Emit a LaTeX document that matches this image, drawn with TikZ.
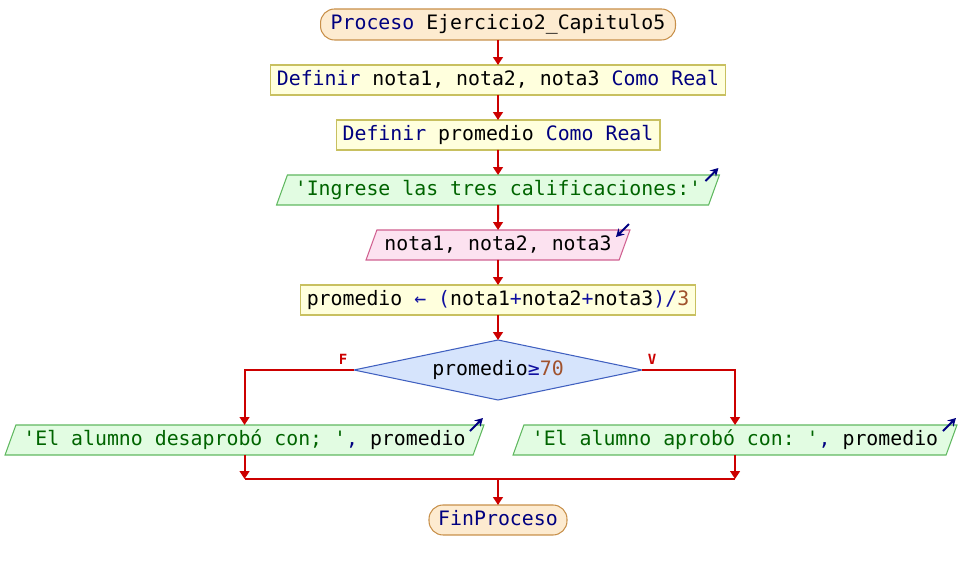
\documentclass[tikz,border=0pt]{standalone}
\usepackage{fontspec}
\setmonofont{DejaVu Sans Mono}
\usetikzlibrary{shapes.geometric,arrows.meta,calc}
\definecolor{kwc}{HTML}{000080}
\definecolor{strc}{HTML}{006400}
\definecolor{numc}{HTML}{A0522D}
\definecolor{opc}{HTML}{1010A0}
\definecolor{flowc}{HTML}{CC0000}
\definecolor{termfill}{HTML}{FDEBD0}
\definecolor{termdraw}{HTML}{C8904A}
\definecolor{boxfill}{HTML}{FFFFDD}
\definecolor{boxdraw}{HTML}{C8C060}
\definecolor{outfill}{HTML}{E2FCE2}
\definecolor{outdraw}{HTML}{60B860}
\definecolor{infill}{HTML}{FCE2F0}
\definecolor{indraw}{HTML}{D06090}
\definecolor{decfill}{HTML}{D6E4FC}
\definecolor{decdraw}{HTML}{4060C0}
\newcommand{\kw}[1]{\textcolor{kwc}{#1}}
\newcommand{\str}[1]{\textcolor{strc}{#1}}
\newcommand{\nm}[1]{\textcolor{numc}{#1}}
\newcommand{\op}[1]{\textcolor{opc}{#1}}
\begin{document}
\begin{tikzpicture}[x=0.02cm,y=-0.02cm,
  every node/.style={font=\ttfamily\fontsize{11.3}{13}\selectfont, text height=8.5pt, text depth=2.5pt, inner xsep=0pt, inner ysep=3pt, outer sep=0pt, line width=0.6pt},
  term/.style={rectangle, rounded corners=0.28cm, draw=termdraw, fill=termfill, minimum height=0.62cm},
  procbox/.style={rectangle, draw=boxdraw, fill=boxfill, minimum height=0.6cm},
  outp/.style={trapezium, trapezium left angle=70, trapezium right angle=110, trapezium stretches body, draw=outdraw, fill=outfill, minimum height=0.6cm},
  inp/.style={outp, draw=indraw, fill=infill},
  dec/.style={diamond, shape aspect=4.8, draw=decdraw, fill=decfill, minimum width=5.76cm, minimum height=1.2cm, inner sep=0pt},
  flow/.style={draw=flowc, line width=1.1pt, -{Triangle[width=5.5pt,length=4.5pt]}},
  flowline/.style={draw=flowc, line width=1.1pt},
  lbl/.style={font=\ttfamily\fontsize{8}{9}\selectfont\bfseries, text=flowc, text height=6pt, text depth=0pt, inner sep=0pt},
  icon/.style={draw=kwc, line width=1.1pt, -{Stealth[width=5pt,length=4.5pt]}}
]
\useasboundingbox (0,0) rectangle (960,570);
\node[term, minimum width=7.1cm] (start) at (498,24.5) {\kw{Proceso} Ejercicio2\_Capitulo5};
\node[procbox, minimum width=9.12cm] (d1) at (498,80) {\kw{Definir} nota1, nota2, nota3 \kw{Como} \kw{Real}};
\node[procbox, minimum width=6.48cm] (d2) at (498,135) {\kw{Definir} promedio \kw{Como} \kw{Real}};
\node[outp, minimum width=8.86cm] (p4) at (498,190) {\str{'Ingrese las tres calificaciones:'}};
\node[inp, minimum width=5.28cm] (p5) at (498,245) {nota1, nota2, nota3};
\node[procbox, minimum width=7.92cm] (a6) at (498,300) {promedio \op{←} \op{(}nota1\op{+}nota2\op{+}nota3\op{)/}\nm{3}};
\node[dec] (dc) at (498,370) {promedio\op{≥}\nm{70}};
\node[outp, minimum width=9.58cm] (lp) at (244.5,440) {\str{'El alumno desaprobó con; '}\kw{,} promedio};
\node[outp, minimum width=8.88cm] (rp) at (735,440) {\str{'El alumno aprobó con: '}\kw{,} promedio};
\node[term, minimum width=2.76cm, minimum height=0.6cm] (fin) at (498,520) {\kw{FinProceso}};
\node[lbl] (fl) at (343,359) {F};
\node[lbl] (vl) at (652,359) {V};
\coordinate (m) at (498,479);
% icons
\draw[icon] ([shift={(-14,6)}]p4.top right corner) -- ([shift={(-1,-7)}]p4.top right corner);
\draw[icon] ([shift={(-1,-6)}]p5.top right corner) -- ([shift={(-14,7)}]p5.top right corner);
\draw[icon] ([shift={(-14,6)}]lp.top right corner) -- ([shift={(-1,-7)}]lp.top right corner);
\draw[icon] ([shift={(-14,6)}]rp.top right corner) -- ([shift={(-1,-7)}]rp.top right corner);
% flow
\draw[flow] (start.south) -- (d1.north);
\draw[flow] (d1.south) -- (d2.north);
\draw[flow] (d2.south) -- (p4.north);
\draw[flow] (p4.south) -- (p5.north);
\draw[flow] (p5.south) -- (a6.north);
\draw[flow] (a6.south) -- (dc.north);
\draw[flow] (dc.west) -| (lp.north);
\draw[flow] (dc.east) -| (rp.north);
\draw[flow] (lp.south) -- (lp.south |- m);
\draw[flow] (rp.south) -- (rp.south |- m);
\draw[flowline] (lp.south |- m) -- (rp.south |- m);
\draw[flow] (m) -- (fin.north);
\end{tikzpicture}
\end{document}
